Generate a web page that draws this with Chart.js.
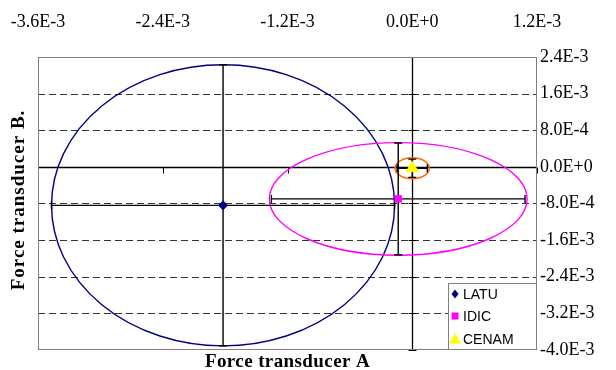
<!DOCTYPE html>
<html>
<head>
<meta charset="utf-8">
<script src="https://cdn.jsdelivr.net/npm/chart.js@4"></script>
<style>
html,body{margin:0;padding:0;background:#fff;}
#wrap{width:616px;height:370px;position:relative;}
</style>
</head>
<body>
<div id="wrap"><canvas id="c" width="616" height="370"></canvas></div>
<script>
// ---- data ----
const labs = ["LATU", "IDIC", "CENAM"];
const centerX = [-1.82e-3, -1.35e-4, 0.0];
const centerY = [-8.4e-4, -7.0e-4, -3.0e-5];
const errX = [1.65e-3, 1.22e-3, 1.45e-4];
const errY = [3.07e-3, 1.22e-3, 2.0e-4];
const ellRX = [1.65e-3, 1.24e-3, 1.65e-4];
const ellRY = [3.07e-3, 1.23e-3, 2.3e-4];
const xTickValues = [-3.6e-3, -2.4e-3, -1.2e-3, 0, 1.2e-3];
const xTickLabels = ["-3.6E-3", "-2.4E-3", "-1.2E-3", "0.0E+0", "1.2E-3"];
const yTickValues = [2.4e-3, 1.6e-3, 8.0e-4, 0, -8.0e-4, -1.6e-3, -2.4e-3, -3.2e-3, -4.0e-3];
const yTickLabels = ["2.4E-3", "1.6E-3", "8.0E-4", "0.0E+0", "-8.0E-4", "-1.6E-3", "-2.4E-3", "-3.2E-3", "-4.0E-3"];
const xTitle = "Force transducer A";
const yTitle = "Force transducer B.";

const pointColors = ["#000080", "#FF00FF", "#FFFF00"];
const ellColors = ["#000080", "#FF00FF", "#FF6A00"];
const pointStyles = ["rectRot", "rect", "triangle"];
const pointRadii = [4.5, 4.5, 7];

const datasets = labs.map((l, i) => ({
  label: l,
  data: [{x: centerX[i], y: centerY[i]}],
  pointStyle: pointStyles[i],
  pointRadius: pointRadii[i],
  pointHoverRadius: pointRadii[i],
  backgroundColor: pointColors[i],
  borderColor: pointColors[i],
  borderWidth: 1,
  showLine: false
}));

const decor = {
  id: 'decor',
  beforeDatasetsDraw(chart) {
    const ctx = chart.ctx, a = chart.chartArea;
    const xs = chart.scales.x, ys = chart.scales.y;
    ctx.save();
    // dashed gridlines
    ctx.lineWidth = 1;
    yTickValues.forEach(v => {
      if (v === 0 || v === yTickValues[0] || v === yTickValues[yTickValues.length-1]) return;
      const y = Math.round(ys.getPixelForValue(v)) + 0.5;
      ctx.strokeStyle = '#333';
      ctx.setLineDash([7, 4]);
      ctx.beginPath(); ctx.moveTo(a.left, y); ctx.lineTo(a.right, y); ctx.stroke();
    });
    ctx.setLineDash([]);
    // zero axes
    ctx.strokeStyle = '#000';
    ctx.lineWidth = 1.3;
    const y0 = Math.round(ys.getPixelForValue(0)) + 0.5;
    const x0 = Math.round(xs.getPixelForValue(0)) + 0.5;
    ctx.beginPath(); ctx.moveTo(a.left, y0); ctx.lineTo(a.right, y0); ctx.stroke();
    ctx.beginPath(); ctx.moveTo(x0, a.top); ctx.lineTo(x0, a.bottom); ctx.stroke();
    // tick marks
    ctx.lineWidth = 1;
    xTickValues.forEach(v => {
      const x = Math.round(xs.getPixelForValue(v)) + 0.5;
      ctx.beginPath(); ctx.moveTo(x, y0); ctx.lineTo(x, y0 + 6); ctx.stroke();
    });
    yTickValues.forEach(v => {
      const y = Math.round(ys.getPixelForValue(v)) + 0.5;
      ctx.beginPath(); ctx.moveTo(x0 - 4, y); ctx.lineTo(x0 + 4, y); ctx.stroke();
    });
    // frame
    ctx.strokeStyle = '#808080';
    ctx.lineWidth = 1;
    ctx.strokeRect(a.left + 0.5, a.top + 0.5, a.right - a.left - 1, a.bottom - a.top - 1);
    // ellipses
    labs.forEach((l, i) => {
      const cx = xs.getPixelForValue(centerX[i]);
      const cy = ys.getPixelForValue(centerY[i]);
      const rx = Math.abs(xs.getPixelForValue(centerX[i] + ellRX[i]) - cx);
      const ry = Math.abs(ys.getPixelForValue(centerY[i] + ellRY[i]) - cy);
      ctx.strokeStyle = ellColors[i];
      ctx.lineWidth = 1.4;
      ctx.beginPath(); ctx.ellipse(cx, cy, rx, ry, 0, 0, Math.PI * 2); ctx.stroke();
    });
    // error bars
    ctx.strokeStyle = '#000';
    ctx.lineWidth = 1.4;
    const cap = 4;
    labs.forEach((l, i) => {
      const cx = xs.getPixelForValue(centerX[i]);
      const cy = ys.getPixelForValue(centerY[i]);
      const xl = xs.getPixelForValue(centerX[i] - errX[i]);
      const xr = xs.getPixelForValue(centerX[i] + errX[i]);
      const yt = ys.getPixelForValue(centerY[i] + errY[i]);
      const yb = ys.getPixelForValue(centerY[i] - errY[i]);
      ctx.beginPath();
      ctx.moveTo(xl, cy); ctx.lineTo(xr, cy);
      ctx.moveTo(xl, cy - cap); ctx.lineTo(xl, cy + cap);
      ctx.moveTo(xr, cy - cap); ctx.lineTo(xr, cy + cap);
      ctx.moveTo(cx, yt); ctx.lineTo(cx, yb);
      ctx.moveTo(cx - cap, yt); ctx.lineTo(cx + cap, yt);
      ctx.moveTo(cx - cap, yb); ctx.lineTo(cx + cap, yb);
      ctx.stroke();
    });
    ctx.restore();
  },
  afterDatasetsDraw(chart) {
    const ctx = chart.ctx, a = chart.chartArea;
    ctx.save();
    // legend
    const lx = 448, ly = 283, lw = a.right - lx, lh = a.bottom - ly;
    ctx.fillStyle = '#fff';
    ctx.fillRect(lx, ly, lw, lh);
    ctx.strokeStyle = '#808080';
    ctx.lineWidth = 1;
    ctx.strokeRect(lx + 0.5, ly + 0.5, lw - 1, lh - 1);
    ctx.font = '14px "Liberation Sans", Arial, sans-serif';
    ctx.textBaseline = 'middle';
    ctx.textAlign = 'left';
    const rowY = [294, 316, 339];
    labs.forEach((l, i) => {
      const mx = 455, my = rowY[i];
      ctx.fillStyle = pointColors[i];
      ctx.beginPath();
      if (pointStyles[i] === 'rectRot') {
        ctx.moveTo(mx, my - 4.5); ctx.lineTo(mx + 3.5, my); ctx.lineTo(mx, my + 4.5); ctx.lineTo(mx - 3.5, my); ctx.closePath();
      } else if (pointStyles[i] === 'rect') {
        ctx.rect(mx - 3.5, my - 3.5, 7, 7);
      } else {
        ctx.moveTo(mx, my - 6); ctx.lineTo(mx + 6, my + 4.5); ctx.lineTo(mx - 6, my + 4.5); ctx.closePath();
      }
      ctx.fill();
      ctx.fillStyle = '#000';
      ctx.fillText(l, mx + 8, my + 1);
    });
    // axis titles
    ctx.font = 'bold 19px "Liberation Serif", "Times New Roman", serif';
    ctx.textAlign = 'center';
    ctx.textBaseline = 'alphabetic';
    ctx.letterSpacing = '0.4px';
    ctx.fillText(xTitle, (a.left + a.right) / 2, 367);
    ctx.letterSpacing = '1px';
    ctx.translate(24, 200);
    ctx.rotate(-Math.PI / 2);
    ctx.fillText(yTitle, 0, 0);
    ctx.restore();
  }
};

new Chart(document.getElementById('c'), {
  type: 'scatter',
  data: { datasets },
  options: {
    responsive: false,
    animation: false,
    layout: { padding: { left: 38, right: 0, top: 0, bottom: 20 } },
    plugins: { legend: { display: false }, tooltip: { enabled: false } },
    scales: {
      x: {
        type: 'linear', position: 'top',
        min: xTickValues[0], max: xTickValues[xTickValues.length - 1],
        afterBuildTicks: s => { s.ticks = xTickValues.map(v => ({ value: v })); },
        afterFit: s => { s.height = 57; s.paddingLeft = 0; s.paddingRight = 0; },
        grid: { display: false, drawTicks: false },
        border: { display: false },
        ticks: {
          padding: 24, color: '#000', maxRotation: 0, autoSkip: false,
          font: { family: '"Liberation Serif", "Times New Roman", serif', size: 18 },
          callback: (v, i) => xTickLabels[i]
        }
      },
      y: {
        type: 'linear', position: 'right',
        min: yTickValues[yTickValues.length - 1], max: yTickValues[0],
        afterBuildTicks: s => { s.ticks = yTickValues.slice().reverse().map(v => ({ value: v })); },
        afterFit: s => { s.width = 79; s.paddingTop = 0; s.paddingBottom = 0; },
        grid: { display: false, drawTicks: false },
        border: { display: false },
        ticks: {
          padding: 3, color: '#000', autoSkip: false,
          font: { family: '"Liberation Serif", "Times New Roman", serif', size: 18 },
          callback: (v, i) => yTickLabels[yTickLabels.length - 1 - i]
        }
      }
    }
  },
  plugins: [decor]
});
</script>
</body>
</html>
